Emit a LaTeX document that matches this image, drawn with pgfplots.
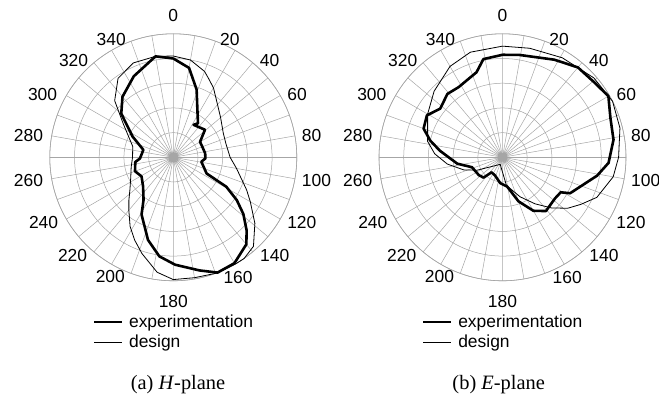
\documentclass[border=0pt]{standalone}
\usepackage{fontspec}
\setmainfont{Liberation Sans}
\newfontfamily\capfont{Liberation Serif}
\usepackage{pgfplots}
\usepgfplotslibrary{polar}
\pgfplotsset{compat=1.18}
\usepackage{pgfplotstable}

\pgfplotstableread{
ang r
0 0.80
10 0.735
19 0.58
27 0.43
36 0.34
32 0.31
49 0.34
60 0.25
70 0.25
83 0.26
92 0.26
99 0.23
108 0.26
116 0.30
119 0.49
124 0.62
129 0.73
135 0.84
140 0.92
150 0.99
159 1.00
167 0.94
179 0.87
188 0.81
197 0.70
209 0.53
215 0.42
226 0.34
239 0.30
250 0.33
263 0.31
268 0.27
284 0.25
297 0.37
310 0.55
320 0.64
334 0.73
350 0.83
360 0.80
}\Hexp

\pgfplotstableread{
ang r
0 0.82
10 0.80
20 0.74
24 0.70
30 0.65
41 0.55
50 0.50
64 0.45
75 0.44
90 0.46
100 0.52
114 0.65
120 0.72
129 0.85
138 0.97
145 1.00
150 1.00
160 1.00
170 0.99
180 0.99
188 0.94
198 0.82
205 0.74
212 0.66
220 0.56
226 0.50
233 0.44
245 0.38
257 0.35
270 0.33
285 0.34
295 0.40
304 0.49
314 0.66
325 0.78
337 0.83
350 0.83
360 0.82
}\Hdes

\pgfplotstableread{
ang r
0 0.83
9 0.84
28 0.895
40 0.95
51 0.96
60 0.99
70 0.93
81 0.91
93 0.86
101 0.78
111 0.67
118 0.62
121 0.55
128 0.54
137 0.55
141 0.56
150 0.50
160 0.38
171 0.24
185 0.21
202 0.16
216 0.15
223 0.225
233 0.24
252 0.26
262 0.37
276 0.51
283 0.60
290 0.68
299 0.70
308 0.64
319 0.68
328 0.67
343 0.72
349 0.81
360 0.83
}\Eexp

\pgfplotstableread{
ang r
0 0.90
14 0.91
31 0.94
49 0.98
63 1.00
76 0.98
90 0.94
100 0.91
113 0.83
121 0.74
128 0.67
136 0.57
145 0.46
156 0.35
172 0.23
198 0.06
243 0.23
252 0.33
263 0.45
273 0.55
282 0.62
300 0.70
314 0.77
330 0.85
343 0.89
360 0.90
}\Edes

\newcommand{\tl}[5]{\node[anchor=#2, inner sep=0pt, xshift=#3, yshift=#4, font=\fontsize{17.5}{17.5}\selectfont] at (axis cs:#1,1) {#5};}
\newcommand{\polarlabels}{%
  \tl{90}{south}{0bp}{12bp}{0}
  \tl{70}{west}{4.5bp}{2bp}{20}
  \tl{50}{west}{7bp}{1.8bp}{40}
  \tl{30}{west}{7bp}{1.2bp}{60}
  \tl{10}{west}{6.8bp}{0bp}{80}
  \tl{350}{west}{6.8bp}{-2bp}{100}
  \tl{330}{west}{6.8bp}{-3.5bp}{120}
  \tl{310}{west}{7.3bp}{-4bp}{140}
  \tl{290}{west}{7.8bp}{-4bp}{160}
  \tl{270}{north}{0bp}{-14bp}{180}
  \tl{250}{east}{-6bp}{-3.5bp}{200}
  \tl{230}{east}{-6.6bp}{-4bp}{220}
  \tl{210}{east}{-8bp}{-3.8bp}{240}
  \tl{190}{east}{-8.4bp}{-2bp}{260}
  \tl{170}{east}{-8.4bp}{0bp}{280}
  \tl{150}{east}{-9bp}{1.3bp}{300}
  \tl{130}{east}{-5.6bp}{1.9bp}{320}
  \tl{110}{east}{-5.1bp}{2bp}{340}
}

\pgfplotsset{
  myaxis/.style={
    anchor=center,
    scale only axis,
    width=247bp, height=247bp,
    xmin=0, xmax=360, ymin=0, ymax=1,
    xtick={0,10,...,350},
    xticklabels={},
    ytick={0.2,0.4,0.6,0.8,1.0},
    yticklabels={},
    grid=both,
    major grid style={gray!70, line width=0.5bp},
    axis line style={gray!70, line width=0.6bp},
    tick style={draw=none},
    major tick length=0pt,
    /pgf/number format/assume math mode=true,
    extra x ticks={0,180},
    extra x tick labels={},
    extra x tick style={grid style={gray!70, line width=1.3bp}},
    clip=false,
    legend style={at={(0.174,-0.132)}, anchor=north west, draw=none, fill=none,
      inner sep=0pt, row sep=3pt, font=\fontsize{17.5}{20}\selectfont,
      nodes={inner sep=1.5pt}},
    legend cell align=left,
    legend image code/.code={\draw[##1] (0bp,0bp) -- (28bp,0bp); \path (32bp,0bp);},
  },
  expline/.style={black, line width=2.6bp, line join=round},
  desline/.style={black, line width=0.8bp, line join=round},
}

\begin{document}
\begin{tikzpicture}
\useasboundingbox (0,0) rectangle (659bp,396bp);
\begin{polaraxis}[myaxis, at={(173.3bp,238.7bp)}]
\addplot[expline] table[x expr={mod(450-\thisrow{ang},360)}, y=r] {\Hexp};
\addlegendentry{experimentation}
\addplot[desline] table[x expr={mod(450-\thisrow{ang},360)}, y=r] {\Hdes};
\addlegendentry{design}
\polarlabels
\end{polaraxis}
\begin{polaraxis}[myaxis, at={(502.5bp,238.7bp)}]
\addplot[expline] table[x expr={mod(450-\thisrow{ang},360)}, y=r] {\Eexp};
\addlegendentry{experimentation}
\addplot[desline] table[x expr={mod(450-\thisrow{ang},360)}, y=r] {\Edes};
\addlegendentry{design}
\polarlabels
\end{polaraxis}
\node[font=\capfont\fontsize{20.5}{20.5}\selectfont] at (178bp,11bp) {(a) \textit{H}-plane};
\node[font=\capfont\fontsize{20.5}{20.5}\selectfont] at (498.7bp,11bp) {(b) \textit{E}-plane};
\end{tikzpicture}
\end{document}
